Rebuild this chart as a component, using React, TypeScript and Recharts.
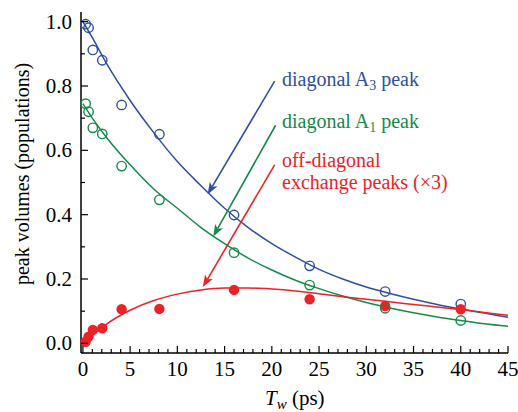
import {
    ComposedChart,
    Line,
    Scatter,
    XAxis,
    YAxis,
    ReferenceLine,
} from 'recharts'

// measured points (waiting time Tw in ps)
const T_OBS = [0.29, 0.6, 1.05, 2.05, 4.1, 8.1, 16, 24, 32, 40]
const A3_OBS = [0.992, 0.981, 0.912, 0.88, 0.741, 0.65, 0.399, 0.241, 0.161, 0.122]
const A1_OBS = [0.745, 0.72, 0.67, 0.651, 0.551, 0.446, 0.282, 0.181, 0.109, 0.071]
const EX_OBS = [0.005, 0.021, 0.042, 0.047, 0.106, 0.107, 0.166, 0.137, 0.116, 0.106]

// fitted curves
const T_FIT = [0, 1, 2.5, 5, 7.5, 10, 12.5, 15, 17.5, 20, 22.5, 25, 27.5, 30, 32.5, 35, 37.5, 40, 42.5, 45]
const A3_FIT = [1.0, 0.95, 0.87, 0.755, 0.655, 0.565, 0.49, 0.42, 0.36, 0.31, 0.268, 0.23, 0.2, 0.175, 0.155, 0.137, 0.121, 0.107, 0.094, 0.081]
const A1_FIT = [0.745, 0.7, 0.64, 0.555, 0.48, 0.42, 0.36, 0.31, 0.265, 0.228, 0.196, 0.17, 0.147, 0.127, 0.11, 0.095, 0.082, 0.071, 0.061, 0.053]
const EX_FIT = [0, 0.025, 0.06, 0.103, 0.133, 0.153, 0.166, 0.172, 0.172, 0.169, 0.163, 0.154, 0.145, 0.137, 0.129, 0.121, 0.113, 0.105, 0.096, 0.087]

const X_TICKS = Array.from({ length: 46 }, (_, i) => i)
const Y_TICKS = [0, 0.1, 0.2, 0.3, 0.4, 0.5, 0.6, 0.7, 0.8, 0.9, 1.0]

// arrow segments in data coordinates: [start, tip]
const A3_ARROW = [{ x: 20.3, y: 0.815 }, { x: 13.2, y: 0.463 }]
const A1_ARROW = [{ x: 20.4, y: 0.678 }, { x: 13.8, y: 0.332 }]
const EX_ARROW = [{ x: 20.3, y: 0.555 }, { x: 12.7, y: 0.175 }]

const BLUE = '#2f4fa2'
const GREEN = '#17894a'
const RED = '#ec2227'
const FONT = 'Liberation Serif, Times New Roman, serif'
const serif = { fontFamily: FONT }

const zip = (xs: number[], ys: number[]) => xs.map((x, i) => ({ x, y: ys[i] }))

const XTick = (props: any) => {
    const { x, y, payload } = props
    const v = payload.value
    const major = v % 5 === 0
    return (
        <g>
            <line x1={x} x2={x} y1={y} y2={y - (major ? 7 : 4)} stroke="#000" strokeWidth={1.2} />
            {major && (
                <text x={x} y={y + 23} textAnchor="middle" style={serif} fontSize={21} fill="#000">
                    {v}
                </text>
            )}
        </g>
    )
}

const YTick = (props: any) => {
    const { x, y, payload } = props
    const v = payload.value
    const major = Math.round(v * 10) % 2 === 0
    return (
        <g>
            <line x1={x} x2={x + (major ? 7 : 4)} y1={y} y2={y} stroke="#000" strokeWidth={1.2} />
            {major && (
                <text x={x - 9} y={y + 7} textAnchor="end" style={serif} fontSize={21} fill="#000">
                    {v.toFixed(1)}
                </text>
            )}
        </g>
    )
}

const arrowShape = (color: string) => (p: any) => {
    const { x1, y1, x2, y2 } = p
    const dx = x2 - x1
    const dy = y2 - y1
    const len = Math.hypot(dx, dy) || 1
    const ux = dx / len
    const uy = dy / len
    const hl = 12
    const hw = 4.5
    const bx = x2 - ux * hl
    const by = y2 - uy * hl
    const nx = bx + ux * 3
    const ny = by + uy * 3
    return (
        <g>
            <line x1={x1} y1={y1} x2={nx} y2={ny} stroke={color} strokeWidth={1.6} />
            <polygon
                points={`${x2},${y2} ${bx - uy * hw},${by + ux * hw} ${nx},${ny} ${bx + uy * hw},${by - ux * hw}`}
                fill={color}
            />
        </g>
    )
}

const openDot = (color: string) => (p: any) => (
    <circle cx={p.cx} cy={p.cy} r={4.7} fill="none" stroke={color} strokeWidth={1.4} />
)
const filledDot = (p: any) => <circle cx={p.cx} cy={p.cy} r={5.2} fill={RED} />

export default function App() {
    return (
        <div style={{ position: 'fixed', left: 0, top: 0, width: 518, height: 412, background: '#fff', fontFamily: FONT }}>
            <ComposedChart width={518} height={412} margin={{ top: 12, right: 10, bottom: 0, left: 0 }}>
                <XAxis
                    dataKey="x"
                    type="number"
                    domain={[-0.2, 45]}
                    ticks={X_TICKS}
                    interval={0}
                    height={59}
                    tickSize={0}
                    tickMargin={0}
                    tickLine={false}
                    tick={(p: any) => <XTick {...p} />}
                    axisLine={{ stroke: '#000', strokeWidth: 1.5 }}
                />
                <XAxis
                    xAxisId="top"
                    orientation="top"
                    type="number"
                    domain={[-0.2, 45]}
                    height={0}
                    tick={false}
                    tickLine={false}
                    axisLine={{ stroke: '#000', strokeWidth: 1.5 }}
                />
                <YAxis
                    type="number"
                    domain={[-0.03, 1.03]}
                    ticks={Y_TICKS}
                    interval={0}
                    width={81}
                    tickSize={0}
                    tickMargin={0}
                    tickLine={false}
                    tick={(p: any) => <YTick {...p} />}
                    axisLine={{ stroke: '#000', strokeWidth: 1.5 }}
                />
                <YAxis
                    yAxisId="right"
                    orientation="right"
                    type="number"
                    domain={[-0.03, 1.03]}
                    width={0}
                    tick={false}
                    tickLine={false}
                    axisLine={{ stroke: '#000', strokeWidth: 1.5 }}
                />

                <Line data={zip(T_FIT, A3_FIT)} dataKey="y" type="monotone" stroke={BLUE} strokeWidth={1.5} dot={false} isAnimationActive={false} />
                <Line data={zip(T_FIT, A1_FIT)} dataKey="y" type="monotone" stroke={GREEN} strokeWidth={1.5} dot={false} isAnimationActive={false} />
                <Line data={zip(T_FIT, EX_FIT)} dataKey="y" type="monotone" stroke={RED} strokeWidth={1.5} dot={false} isAnimationActive={false} />

                <Scatter data={zip(T_OBS, A3_OBS)} dataKey="y" shape={openDot(BLUE)} isAnimationActive={false} />
                <Scatter data={zip(T_OBS, EX_OBS)} dataKey="y" shape={filledDot} isAnimationActive={false} />
                <Scatter data={zip(T_OBS, A1_OBS)} dataKey="y" shape={openDot(GREEN)} isAnimationActive={false} />

                <ReferenceLine segment={A3_ARROW} shape={arrowShape(BLUE)} />
                <ReferenceLine segment={A1_ARROW} shape={arrowShape(GREEN)} />
                <ReferenceLine segment={EX_ARROW} shape={arrowShape(RED)} />
            </ComposedChart>

            <svg width={518} height={412} style={{ position: 'absolute', left: 0, top: 0, pointerEvents: 'none' }}>
                <g style={serif} fontSize={20}>
                    <text x={282} y={86} fill={BLUE}>
                        diagonal A<tspan fontSize={14} dy={4}>3</tspan>
                        <tspan dy={-4}> peak</tspan>
                    </text>
                    <text x={282} y={128} fill={GREEN}>
                        diagonal A<tspan fontSize={14} dy={4}>1</tspan>
                        <tspan dy={-4}> peak</tspan>
                    </text>
                    <text x={282} y={167} fill={RED}>off-diagonal</text>
                    <text x={282} y={189} fill={RED}>exchange peaks (×3)</text>
                    <text
                        x={29}
                        y={174}
                        transform="rotate(-90 29 174)"
                        textAnchor="middle"
                        fill="#000"
                    >
                        peak volumes (populations)
                    </text>
                    <text x={265} y={405} fill="#000" fontSize={21}>
                        <tspan fontStyle="italic">T</tspan>
                        <tspan fontStyle="italic" fontSize={15} dy={4}>w</tspan>
                        <tspan dy={-4}> (ps)</tspan>
                    </text>
                </g>
            </svg>
        </div>
    )
}
